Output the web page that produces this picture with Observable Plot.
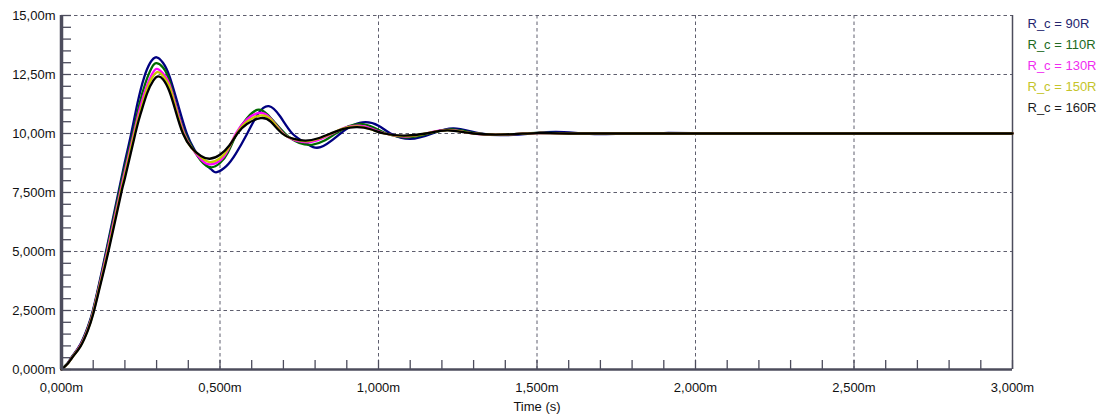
<!DOCTYPE html>
<html><head><meta charset="utf-8">
<script src="https://cdn.jsdelivr.net/npm/d3@7"></script>
<script src="https://cdn.jsdelivr.net/npm/@observablehq/plot@0.6"></script>
<style>body{margin:0;background:#fff}</style>
</head><body><div id="chart"></div>
<script>
const seriesNames = ["R_c = 90R", "R_c = 110R", "R_c = 130R", "R_c = 150R", "R_c = 160R"];
const seriesColors = ["#000080", "#006a00", "#ff00ff", "#c8c800", "#000000"];
const legendColors = ["#25256e", "#226a22", "#f02cf0", "#c4c42a", "#1c1c1c"];

const t90 = [0, 0.02, 0.034, 0.06, 0.083, 0.1, 0.123, 0.142, 0.178, 0.2, 0.22, 0.24, 0.26, 0.28, 0.3, 0.32, 0.34, 0.368, 0.395, 0.42, 0.45, 0.475, 0.49, 0.52, 0.55, 0.586, 0.62, 0.654, 0.69, 0.728, 0.77, 0.817, 0.88, 0.92, 0.959, 1.0, 1.038, 1.1, 1.17, 1.237, 1.32, 1.4, 1.48, 1.56, 1.65, 1.75, 1.9, 2.1, 2.4, 3.0];
const v90 = [0, 0.28, 0.56, 1.08, 1.8, 2.55, 3.9, 5.1, 7.4, 8.8, 10.0, 11.3, 12.35, 13.0, 13.23, 13.0, 12.45, 11.2, 10.0, 9.3, 8.75, 8.45, 8.36, 8.62, 9.15, 10.0, 10.83, 11.16, 10.72, 10.0, 9.6, 9.42, 10.0, 10.35, 10.48, 10.33, 10.0, 9.77, 10.0, 10.22, 10.0, 9.93, 10.0, 10.07, 10.0, 9.98, 10.02, 10.0, 10.0, 10.0];

const t110 = [0, 0.02, 0.034, 0.06, 0.083, 0.1, 0.123, 0.142, 0.181, 0.2, 0.225, 0.245, 0.265, 0.285, 0.3, 0.32, 0.34, 0.363, 0.39, 0.415, 0.44, 0.47, 0.5, 0.525, 0.553, 0.585, 0.617, 0.65, 0.705, 0.75, 0.79, 0.83, 0.865, 0.905, 0.945, 0.985, 1.025, 1.09, 1.16, 1.23, 1.31, 1.4, 1.5, 1.6, 2.0, 3.0];
const v110 = [0, 0.27, 0.54, 1.05, 1.76, 2.5, 3.82, 5.0, 7.45, 8.6, 10.0, 11.2, 12.15, 12.8, 12.98, 12.8, 12.25, 11.1, 10.0, 9.35, 8.85, 8.57, 8.75, 9.2, 10.0, 10.65, 11.0, 10.8, 10.0, 9.6, 9.52, 9.7, 10.0, 10.3, 10.41, 10.25, 10.0, 9.83, 10.0, 10.17, 10.0, 9.95, 10.03, 10.0, 10.0, 10.0];

const t130 = [0, 0.02, 0.034, 0.06, 0.083, 0.1, 0.123, 0.145, 0.184, 0.2, 0.228, 0.25, 0.27, 0.285, 0.3, 0.32, 0.34, 0.362, 0.387, 0.41, 0.44, 0.468, 0.5, 0.525, 0.55, 0.585, 0.62, 0.655, 0.7, 0.74, 0.78, 0.82, 0.855, 0.895, 0.94, 0.98, 1.02, 1.085, 1.15, 1.22, 1.3, 1.4, 1.5, 1.6, 2.0, 3.0];
const v130 = [0, 0.26, 0.53, 1.03, 1.72, 2.45, 3.75, 5.05, 7.45, 8.4, 10.0, 11.2, 12.05, 12.5, 12.74, 12.55, 12.1, 11.1, 10.0, 9.4, 8.9, 8.69, 8.85, 9.3, 10.0, 10.6, 10.86, 10.7, 10.0, 9.7, 9.63, 9.78, 10.0, 10.25, 10.33, 10.2, 10.0, 9.87, 10.0, 10.15, 10.0, 9.96, 10.02, 10.0, 10.0, 10.0];

const t150 = [0, 0.02, 0.034, 0.06, 0.083, 0.1, 0.123, 0.147, 0.186, 0.2, 0.23, 0.25, 0.27, 0.285, 0.302, 0.32, 0.34, 0.36, 0.385, 0.41, 0.44, 0.468, 0.5, 0.525, 0.553, 0.585, 0.625, 0.66, 0.698, 0.735, 0.775, 0.815, 0.852, 0.89, 0.935, 0.975, 1.018, 1.08, 1.15, 1.22, 1.3, 1.4, 1.5, 1.6, 2.0, 3.0];
const v150 = [0, 0.25, 0.52, 1.0, 1.68, 2.4, 3.68, 5.05, 7.45, 8.25, 10.0, 11.0, 11.9, 12.35, 12.6, 12.45, 12.0, 11.1, 10.0, 9.4, 9.0, 8.79, 8.95, 9.35, 10.0, 10.5, 10.76, 10.6, 10.0, 9.75, 9.67, 9.8, 10.0, 10.22, 10.3, 10.18, 10.0, 9.89, 10.0, 10.14, 10.0, 9.96, 10.02, 10.0, 10.0, 10.0];

const t160 = [0, 0.02, 0.034, 0.06, 0.083, 0.1, 0.123, 0.148, 0.188, 0.2, 0.233, 0.25, 0.27, 0.29, 0.304, 0.32, 0.34, 0.36, 0.383, 0.41, 0.44, 0.468, 0.5, 0.53, 0.555, 0.585, 0.628, 0.66, 0.696, 0.73, 0.77, 0.81, 0.849, 0.89, 0.933, 0.975, 1.017, 1.08, 1.15, 1.217, 1.3, 1.4, 1.5, 1.6, 2.0, 3.0];
const v160 = [0, 0.25, 0.51, 0.98, 1.65, 2.35, 3.6, 5.0, 7.45, 8.1, 10.0, 10.85, 11.7, 12.25, 12.42, 12.3, 11.8, 10.95, 10.0, 9.4, 9.05, 8.93, 9.1, 9.5, 10.0, 10.4, 10.65, 10.5, 10.0, 9.78, 9.7, 9.8, 10.0, 10.2, 10.27, 10.18, 10.0, 9.91, 10.0, 10.13, 10.0, 9.96, 10.02, 10.0, 10.0, 10.0];

const xMajor = [0, 0.5, 1.0, 1.5, 2.0, 2.5, 3.0];
const xLabels = ["0,000m", "0,500m", "1,000m", "1,500m", "2,000m", "2,500m", "3,000m"];
const yMajor = [0, 2.5, 5, 7.5, 10, 12.5, 15];
const yLabels = ["0,000m", "2,500m", "5,000m", "7,500m", "10,00m", "12,50m", "15,00m"];
const xMinor = d3.range(0, 31).map(i => i / 10);
const yMinor = d3.range(0, 31).map(i => i / 2);

const seriesT = [t90, t110, t130, t150, t160];
const seriesV = [v90, v110, v130, v150, v160];

const axisColor = "#4c4c5c";
const gridColor = "#5e5e6e";

const lineMarks = seriesNames.map((name, i) => {
  const rows = seriesT[i].map((t, j) => ({t, v: seriesV[i][j], series: name}));
  return Plot.line(rows, {x: "t", y: "v", stroke: seriesColors[i], strokeWidth: 2.3, curve: "natural", strokeLinejoin: "round"});
});

const legendMarks = seriesNames.map((name, i) =>
  Plot.text([name], {frameAnchor: "top-right", textAnchor: "start", lineAnchor: "middle", dx: 15, dy: 8 + i * 21, fill: legendColors[i], fontSize: 13})
);

const plot = Plot.plot({
  width: 1102, height: 416,
  marginLeft: 61, marginRight: 90, marginTop: 15, marginBottom: 47,
  x: {domain: [0, 3]},
  y: {domain: [0, 15]},
  style: {fontFamily: "'Liberation Sans', Arial, sans-serif", fontSize: "13px", color: "#111", background: "#fff"},
  marks: [
    Plot.gridX(xMajor.filter(d => d > 0 && d < 3), {stroke: gridColor, strokeOpacity: 1, strokeDasharray: "3.5,3"}),
    Plot.gridY(yMajor.filter(d => d > 0), {stroke: gridColor, strokeOpacity: 1, strokeDasharray: "3.5,3"}),
    Plot.tickX(xMinor, {x: d => d, insetTop: 345, stroke: axisColor, strokeWidth: 1.3}),
    Plot.tickY(yMinor, {y: d => d, insetRight: 941, stroke: axisColor, strokeWidth: 1.3}),
    Plot.ruleX([3], {stroke: axisColor, strokeWidth: 1.5}),
    ...lineMarks,
    Plot.ruleY([0], {stroke: axisColor, strokeWidth: 2.5}),
    Plot.ruleX([0], {stroke: axisColor, strokeWidth: 3.5}),
    Plot.axisX(xMajor, {tickSize: 0, tickPadding: 13, tickFormat: d => xLabels[xMajor.indexOf(d)], label: null, fill: "#111"}),
    Plot.axisY(yMajor, {tickSize: 0, tickPadding: 6, tickFormat: d => yLabels[yMajor.indexOf(d)], label: null, fill: "#111"}),
    ...legendMarks,
    Plot.text(["Time (s)"], {frameAnchor: "bottom", dy: 41, fill: "#111", fontSize: 13})
  ]
});
document.getElementById("chart").appendChild(plot);
</script>
</body></html>
